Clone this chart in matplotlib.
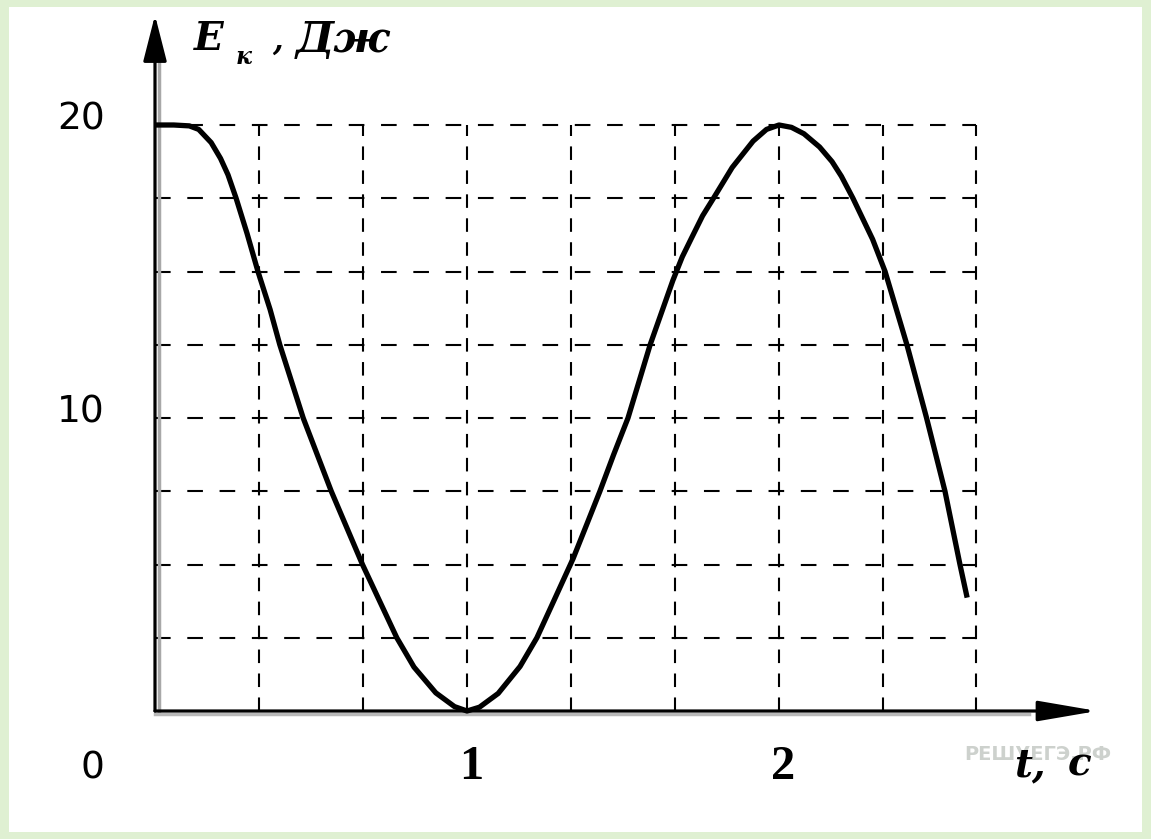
import matplotlib
matplotlib.use("Agg")
import matplotlib.pyplot as plt
from matplotlib.patches import Rectangle
from matplotlib.transforms import offset_copy

# curve: t in seconds, E_k in joules
t_vals = [0, 0.06, 0.11, 0.14, 0.18, 0.21, 0.234, 0.26, 0.295, 0.33, 0.369,
          0.40, 0.475, 0.565, 0.665, 0.775, 0.83, 0.90, 0.96, 1.0, 1.04,
          1.10, 1.17, 1.224, 1.28, 1.34, 1.385, 1.426, 1.47, 1.516, 1.587,
          1.66, 1.69, 1.72, 1.755, 1.79, 1.85, 1.917, 1.96, 2.0, 2.04,
          2.08, 2.13, 2.17, 2.20, 2.237, 2.30, 2.34, 2.41, 2.473, 2.532,
          2.58, 2.603]
e_vals = [20, 20, 19.97, 19.85, 19.4, 18.86, 18.3, 17.5, 16.3, 15, 13.7,
          12.5, 10, 7.5, 5, 2.5, 1.5, 0.62, 0.15, 0, 0.13,
          0.6, 1.52, 2.5, 3.8, 5.2, 6.4, 7.5, 8.75, 10, 12.5,
          14.7, 15.5, 16.15, 16.9, 17.5, 18.55, 19.45, 19.85, 20, 19.92,
          19.7, 19.25, 18.75, 18.25, 17.5, 16.1, 15, 12.5, 10, 7.5,
          5, 3.87]

grid_t = [1/3, 2/3, 1, 4/3, 5/3, 2, 7/3, 2.63]
grid_e = [2.5, 5, 7.5, 10, 12.5, 15, 17.5, 20]

y_ticks = [20, 10]
y_tick_labels = ["20", "10"]
x_ticks = [1, 2]
x_tick_labels = ["1", "2"]

W, H = 1151, 839
fig = plt.figure(figsize=(W / 100, H / 100), dpi=100)
fig.patch.set_facecolor("#dff0d2")
fig.patches.append(Rectangle((9 / W, 7 / H), (W - 18) / W, (H - 14) / H,
                             transform=fig.transFigure, facecolor="white",
                             edgecolor="none", zorder=-1))


def px(x, y):
    return x / W, 1 - y / H


ax = fig.add_axes([155 / W, 128 / H, 3.1 * 312 / W, 24 * 29.3 / H])
ax.set_zorder(2)
ax.set_xlim(0, 3.1)
ax.set_ylim(0, 24)
ax.axis("off")
ax.patch.set_alpha(0)

# dashed grid, limited to the grid box
x_end = grid_t[-1]
for e in grid_e:
    ax.plot([0, x_end], [e, e], color="black", lw=1.5, dashes=(7.5, 8),
            clip_on=False, zorder=2)
for t in grid_t:
    ax.plot([t, t], [0, grid_e[-1]], color="black", lw=1.5, dashes=(6.5, 5),
            clip_on=False, zorder=2)

# axes with grey shadow
sh_r = offset_copy(ax.transData, fig=fig, x=4, y=0, units="dots")
sh_d = offset_copy(ax.transData, fig=fig, x=0, y=-3, units="dots")
ax.plot([0, 0], [0, 22.5], color="#a8a8a8", lw=2.5, transform=sh_r,
        clip_on=False, zorder=3)
ax.plot([0, 2.8], [0, 0], color="#b8b8b8", lw=2.5, transform=sh_d,
        clip_on=False, zorder=3)
ax.annotate("", xy=(0, 23.75), xytext=(0, 0),
            arrowprops=dict(arrowstyle="-|>,head_length=0.55,head_width=0.14",
                            mutation_scale=52, lw=2.3, color="black",
                            shrinkA=0, shrinkB=0),
            annotation_clip=False, zorder=4)
ax.annotate("", xy=(3.02, 0), xytext=(0, 0),
            arrowprops=dict(arrowstyle="-|>,head_length=0.7,head_width=0.12",
                            mutation_scale=52, lw=2.3, color="black",
                            shrinkA=0, shrinkB=0),
            annotation_clip=False, zorder=4)

# the curve
ax.plot(t_vals, e_vals, color="black", lw=3.8, solid_joinstyle="round",
        solid_capstyle="butt", clip_on=False, zorder=5)

# tick labels
for v, lab in zip(y_ticks, y_tick_labels):
    ax.text(-0.16, v + 0.2, lab, ha="right", va="center", fontsize=27,
            family="DejaVu Sans")
ax.text(-0.2, -1.95, "0", ha="center", va="center", fontsize=27,
        family="DejaVu Sans")
for v, lab in zip(x_ticks, x_tick_labels):
    ax.text(v + 0.013, -1.9, lab, ha="center", va="center", fontsize=35,
            family="Liberation Serif", weight="bold")

# watermark
fig.text(*px(1038, 755), "РЕШУЕГЭ.РФ", ha="center", va="center",
         fontsize=14, weight="bold", color="#cdd1cd", family="DejaVu Sans",
         zorder=1)

# axis titles
lab = dict(family="DejaVu Serif", weight="bold", style="italic",
           color="black", va="baseline", ha="left", zorder=3)
fig.text(*px(194, 50), "E", fontsize=28, **lab)
fig.text(*px(236, 64), "к", fontsize=17, **lab)
fig.text(*px(272, 50), ",", fontsize=22, **lab)
fig.text(*px(296, 52), "Дж", fontsize=31, **lab)
fig.text(*px(1014, 776), "t,", fontsize=28, **lab)
fig.text(*px(1068, 776), "c", fontsize=28, **lab)

fig.savefig("out.png", dpi=100)
